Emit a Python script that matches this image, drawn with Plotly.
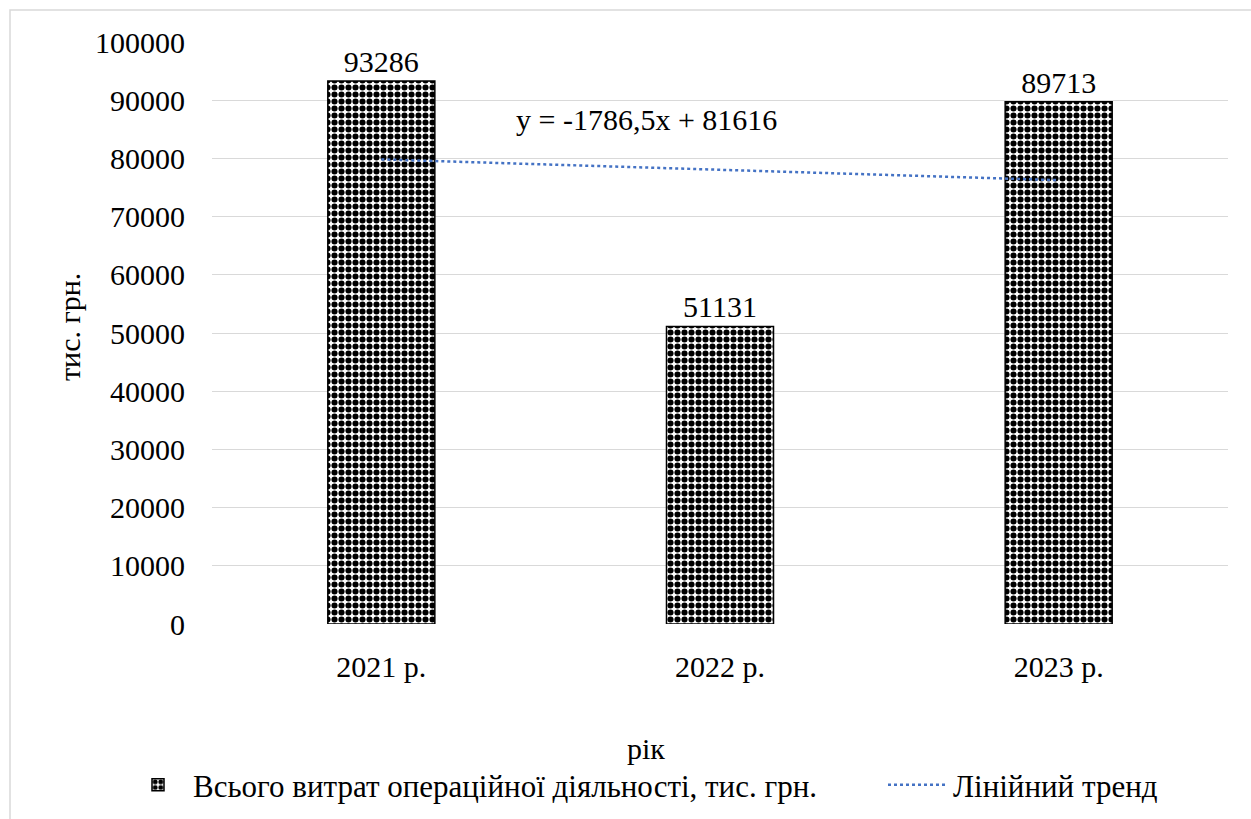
import numpy as np
import plotly.graph_objects as go

categories = ["2021 р.", "2022 р.", "2023 р."]
values = [93286, 51131, 89713]
y_ticks = [0, 10000, 20000, 30000, 40000, 50000, 60000, 70000, 80000, 90000, 100000]
series_name = "Всього витрат операційної діяльності, тис. грн."
trend_name = "Лінійний тренд"
y_title = "тис. грн."
x_title = "рік"

# linear trend fitted over index 1..n (as in Excel)
idx = np.arange(1, len(values) + 1)
slope, intercept = np.polyfit(idx, values, 1)
trend = slope * idx + intercept
eq_text = "y = " + f"{slope:.1f}".replace(".", ",") + "x + " + f"{intercept:.0f}"

FONT = "Times New Roman, Liberation Serif, DejaVu Serif, serif"
FS = 30
LFS = 31
W, H = 1251, 819
L, R, T, B = 212, 23, 42, 195
pw, ph = W - L - R, H - T - B

def px(x):
    return (x - L) / pw

def py(y):
    return (H - B - y) / ph

fig = go.Figure()
fig.add_trace(go.Bar(
    x=categories, y=values, name=series_name, legend="legend",
    text=[str(v) for v in values], textposition="outside",
    textfont=dict(size=FS, color="black", family=FONT),
    cliponaxis=False,
    marker=dict(color="white", line=dict(color="black", width=1.5),
                pattern=dict(shape=".", size=7, solidity=0.6,
                             fgcolor="black", bgcolor="white", fillmode="replace")),
    width=0.316,
))
fig.add_trace(go.Scatter(
    x=categories, y=trend, name=trend_name, mode="lines", legend="legend2",
    line=dict(color="#4472C4", width=2.5, dash="dot"),
))

legend_common = dict(orientation="h", xanchor="left", xref="container",
                     y=(H - 785) / H, yanchor="middle", yref="container",
                     font=dict(size=LFS, family=FONT), itemwidth=60,
                     bgcolor="rgba(0,0,0,0)")

fig.update_layout(
    width=W, height=H,
    margin=dict(l=L, r=R, t=T, b=B, autoexpand=False),
    paper_bgcolor="white", plot_bgcolor="white",
    font=dict(family=FONT, size=FS, color="black"),
    showlegend=True,
    legend=dict(x=123 / W, **legend_common),
    legend2=dict(x=883 / W, **legend_common),
    xaxis=dict(showgrid=False, showline=False, zeroline=False, ticks="",
               ticklabelstandoff=22, tickfont=dict(size=FS, family=FONT)),
    yaxis=dict(range=[0, 100000], tickvals=y_ticks, tickformat="d", showgrid=True,
               gridcolor="#d9d9d9", gridwidth=1, zeroline=False,
               showline=False, ticks="", ticklabelstandoff=26,
               tickfont=dict(size=FS, family=FONT)),
    annotations=[
        dict(text=eq_text, x=px(646), y=py(120), xref="paper", yref="paper",
             showarrow=False, font=dict(size=FS, family=FONT), xanchor="center", yanchor="middle"),
        dict(text=y_title, x=px(69), y=py(327), xref="paper", yref="paper",
             showarrow=False, textangle=-90, font=dict(size=FS, family=FONT),
             xanchor="center", yanchor="middle"),
        dict(text=x_title, x=px(646), y=py(748), xref="paper", yref="paper",
             showarrow=False, font=dict(size=FS, family=FONT), xanchor="center", yanchor="middle"),
    ],
    shapes=[dict(type="rect", xref="paper", yref="paper",
                 x0=px(10), x1=px(1265), y0=py(835), y1=py(10),
                 line=dict(color="#d9d9d9", width=1.5), fillcolor="rgba(0,0,0,0)",
                 layer="below")],
)

fig.write_html("out.html", config={"displayModeBar": False},
               post_script="document.body.style.margin='0';")
